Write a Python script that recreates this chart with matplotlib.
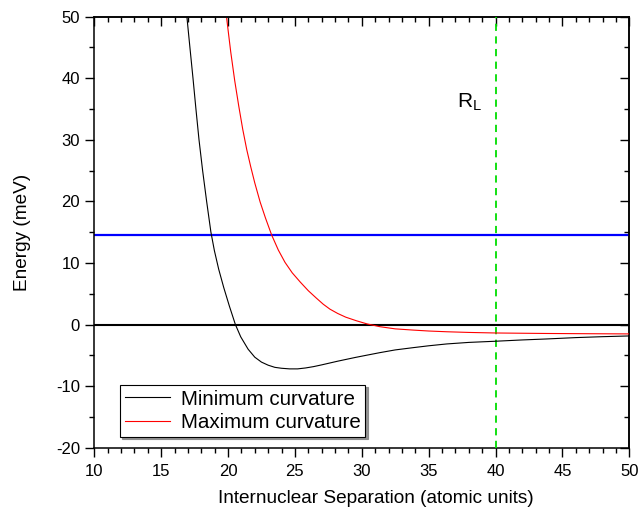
import matplotlib
matplotlib.use("Agg")
import matplotlib.pyplot as plt
from matplotlib.ticker import MultipleLocator

plt.rcParams['font.family'] = ['Liberation Sans', 'DejaVu Sans']
plt.rcParams['mathtext.fontset'] = 'custom'
plt.rcParams['mathtext.rm'] = 'Liberation Sans'
plt.rcParams['axes.unicode_minus'] = False

# Minimum curvature curve
min_x = [16.9, 17.15, 17.38, 17.6, 17.83, 18.1, 18.4, 18.72, 18.98, 19.3, 19.68, 20.1,
         20.55, 20.95, 21.5, 22.0, 22.5, 23.0, 23.5, 24.0, 24.6, 25.2, 25.8, 26.4,
         27.0, 27.6, 28.2, 28.87, 29.5, 30.2, 31.36, 32.5, 33.85, 35.0, 36.35, 38.0,
         40.0, 42.0, 43.83, 46.0, 48.0, 50.0]
min_y = [50.5, 45.0, 40.0, 35.0, 30.0, 25.0, 20.0, 15.0, 12.0, 9.0, 6.0, 3.0,
         0.0, -2.0, -4.0, -5.3, -6.1, -6.6, -6.95, -7.1, -7.2, -7.2, -7.05, -6.83,
         -6.55, -6.25, -5.95, -5.64, -5.35, -5.05, -4.56, -4.12, -3.75, -3.45, -3.15, -2.9,
         -2.71, -2.5, -2.34, -2.12, -1.97, -1.85]

# Maximum curvature curve
max_x = [19.9, 20.2, 20.5, 20.8, 21.1, 21.4, 21.7, 22.0, 22.4, 22.8, 23.26, 23.76,
         24.26, 24.8, 25.4, 26.0, 26.6, 27.12, 27.62, 28.2, 28.8, 29.62, 30.4, 31.36,
         32.5, 33.85, 35.0, 36.35, 38.0, 40.0, 43.83, 47.0, 50.0]
max_y = [49.7, 44.3, 39.6, 35.5, 31.7, 28.4, 25.6, 23.0, 19.9, 17.3, 14.55, 12.1,
         10.1, 8.4, 6.9, 5.5, 4.3, 3.3, 2.5, 1.8, 1.2, 0.6, 0.1, -0.35,
         -0.7, -0.9, -1.05, -1.17, -1.28, -1.37, -1.45, -1.49, -1.52]

blue_level = 14.55
zero_level = 0.0
r_l = 40.0

fig = plt.figure(figsize=(6.41, 5.12), dpi=100)
ax = fig.add_axes([0.1471, 0.1256, 0.9817 - 0.1471, 0.9674 - 0.1256])

ax.axhline(blue_level, color='#0000ff', lw=1.6, zorder=2)
ax.axhline(zero_level, color='black', lw=1.5, zorder=2)
ax.axvline(r_l, color='#00dd00', lw=1.3, dashes=(4, 3), zorder=3)
ax.plot(min_x, min_y, color='black', lw=0.8, label='Minimum curvature', zorder=4)
ax.plot(max_x, max_y, color='#ff0000', lw=0.8, label='Maximum curvature', zorder=4)

ax.set_xlim(10, 50)
ax.set_ylim(-20, 50)
ax.xaxis.set_major_locator(MultipleLocator(5))
ax.xaxis.set_minor_locator(MultipleLocator(1))
ax.yaxis.set_major_locator(MultipleLocator(10))
ax.yaxis.set_minor_locator(MultipleLocator(5))
ax.tick_params(which='major', direction='out', length=6.7, width=1.0, labelsize=12)
ax.tick_params(axis='x', which='major', pad=5)
ax.tick_params(which='minor', direction='out', length=3.6, width=1.0)
for s in ax.spines.values():
    s.set_linewidth(1.1)

secx = ax.secondary_xaxis('top')
secx.xaxis.set_major_locator(MultipleLocator(5))
secx.xaxis.set_minor_locator(MultipleLocator(1))
secx.tick_params(which='major', direction='in', length=6.7, width=1.0, labeltop=False)
secx.tick_params(which='minor', direction='in', length=3.6, width=1.0)
secx.spines['top'].set_linewidth(1.1)

secy = ax.secondary_yaxis('right')
secy.yaxis.set_major_locator(MultipleLocator(10))
secy.yaxis.set_minor_locator(MultipleLocator(5))
secy.tick_params(which='major', direction='in', length=6.7, width=1.0, labelright=False)
secy.tick_params(which='minor', direction='in', length=3.6, width=1.0)
secy.spines['right'].set_linewidth(1.1)

ax.set_xlabel('Internuclear Separation (atomic units)', fontsize=13.7)
ax.xaxis.set_label_coords(0.5265, -0.098)
ax.set_ylabel('Energy (meV)', fontsize=13.7, labelpad=18)

ax.text(37.1, 35.2, r'$\mathregular{R_L}$', fontsize=15, ha='left', va='baseline')

leg = ax.legend(loc='lower left', bbox_to_anchor=(0.048, 0.025), borderaxespad=0,
                fancybox=False, shadow={'ox': 1.5, 'oy': -1.5, 'color': '#888888', 'alpha': 0.9},
                fontsize=14.8, handlelength=2.2, handletextpad=0.5,
                borderpad=0.25, labelspacing=0.2)
leg.get_frame().set_edgecolor('black')
leg.get_frame().set_linewidth(0.8)

fig.savefig('out.png', dpi=100)
